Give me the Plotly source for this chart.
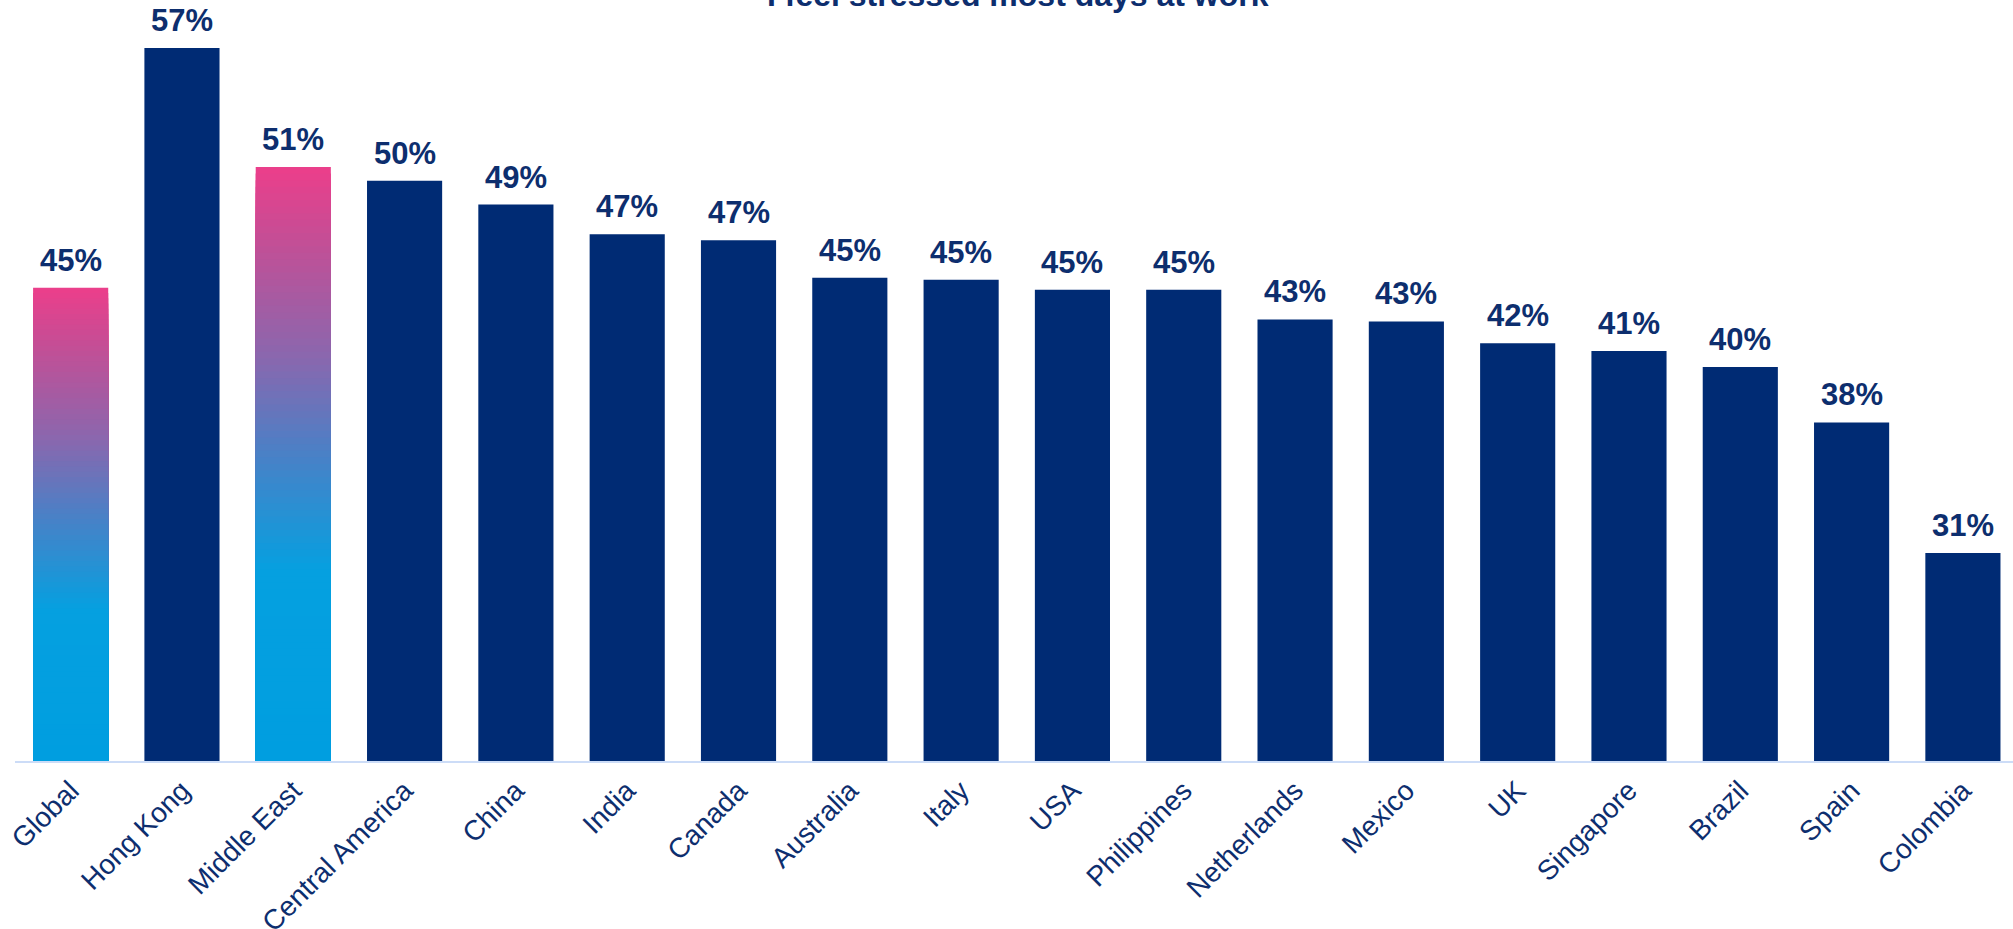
import plotly.graph_objects as go
from plotly.colors import sample_colorscale

# ---------------- data ----------------
categories = ["Global", "Hong Kong", "Middle East", "Central America", "China", "India",
              "Canada", "Australia", "Italy", "USA", "Philippines", "Netherlands",
              "Mexico", "UK", "Singapore", "Brazil", "Spain", "Colombia"]
values = [44.9, 57.0, 51.0, 50.3, 49.1, 47.6, 47.3, 45.4, 45.3, 44.8, 44.8, 43.3,
          43.2, 42.1, 41.7, 40.9, 38.1, 31.5]
labels = ["45%", "57%", "51%", "50%", "49%", "47%", "47%", "45%", "45%", "45%", "45%",
          "43%", "43%", "42%", "41%", "40%", "38%", "31%"]
highlighted = ["Global", "Middle East"]
title_text = "I feel stressed most days at work"

# ---------------- style ----------------
NAVY = "#002B74"
TEXT = "#0D2E6E"
AXIS_LINE = "#CCDCF7"
Y_MIN, Y_MAX = 21, 58.42
GRADIENT = [[0.0, "#009EE0"], [0.32, "#05A0E0"], [0.52, "#4B80C6"],
            [0.68, "#8A67AE"], [0.87, "#C24F96"], [1.0, "#EC3E8A"]]
N_SEG = 90

fig = go.Figure()

# navy bars
navy_x = [c for c in categories if c not in highlighted]
navy_y = [v for c, v in zip(categories, values) if c not in highlighted]
fig.add_trace(go.Bar(x=navy_x, y=navy_y, marker=dict(color=NAVY, line=dict(width=0)),
                     hoverinfo="skip", showlegend=False))

# gradient bars: overlapping bars, each shorter one drawn on top with a lower colour
hi_y = [values[categories.index(c)] for c in highlighted]
for k in range(N_SEG):
    t = 1 - k / N_SEG
    col = sample_colorscale(GRADIENT, [max(0.0, t - 0.5 / N_SEG)])[0]
    fig.add_trace(go.Bar(
        x=highlighted,
        y=[Y_MIN + (v - Y_MIN) * t for v in hi_y],
        marker=dict(color=col, line=dict(width=0)),
        hoverinfo="skip", showlegend=False))

# value labels
for c, v, lab in zip(categories, values, labels):
    fig.add_annotation(x=c, y=v, text=lab, showarrow=False, yanchor="bottom",
                       yshift=8, font=dict(family="Liberation Sans, Arial", size=31,
                                           color=TEXT, weight="bold"))

# title (partly cut off at the top edge, as in the original)
fig.add_annotation(xref="paper", yref="paper", x=0.5018, y=1.0, xanchor="center",
                   yanchor="bottom", yshift=5, showarrow=False,
                   text="<b>" + title_text + "</b>",
                   font=dict(family="Liberation Sans, Arial", size=32, color=TEXT))

fig.update_layout(
    width=2013, height=929,
    barmode="overlay", bargap=0.325,
    plot_bgcolor="white", paper_bgcolor="white",
    margin=dict(l=15, r=0, t=20, b=168),
    xaxis=dict(categoryorder="array", categoryarray=categories, automargin=False,
               range=[-0.5, 17.45], showline=True, linecolor=AXIS_LINE, linewidth=2,
               tickangle=-45, ticks="", showgrid=False,
               tickfont=dict(family="Liberation Sans, Arial", size=28, color=TEXT)),
    yaxis=dict(range=[Y_MIN, Y_MAX], visible=False, showgrid=False, automargin=False),
)

fig.write_html("out.html", config={"displayModeBar": False},
               post_script="document.body.style.margin='0';")
